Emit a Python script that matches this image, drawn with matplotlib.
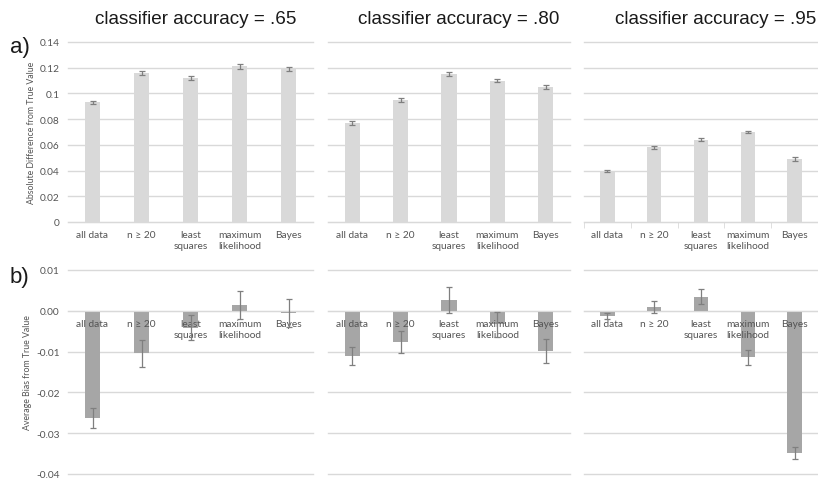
import numpy as np
import matplotlib.pyplot as plt
from matplotlib.ticker import FixedLocator

categories = ["all data", "n \u2265 20", "least\nsquares", "maximum\nlikelihood", "Bayes"]
accuracies = [".65", ".80", ".95"]

# a) absolute difference from true value (one list per classifier accuracy)
absdiff_65 = [0.093, 0.116, 0.112, 0.121, 0.119]
absdiff_80 = [0.077, 0.095, 0.115, 0.110, 0.105]
absdiff_95 = [0.040, 0.058, 0.064, 0.070, 0.049]
absdiff_err_65 = [0.0015, 0.0017, 0.0016, 0.0017, 0.0017]
absdiff_err_80 = [0.0012, 0.0015, 0.0016, 0.0014, 0.0014]
absdiff_err_95 = [0.0008, 0.0009, 0.0010, 0.0009, 0.0012]

# b) average bias from true value
bias_65 = [-0.0263, -0.0104, -0.0041, 0.0014, -0.0006]
bias_80 = [-0.0111, -0.0077, 0.0027, -0.0033, -0.0098]
bias_95 = [-0.0013, 0.0010, 0.0035, -0.0114, -0.0348]
bias_err_65 = [0.0024, 0.0033, 0.0031, 0.0035, 0.0034]
bias_err_80 = [0.0022, 0.0027, 0.0032, 0.0030, 0.0029]
bias_err_95 = [0.0007, 0.0015, 0.0018, 0.0019, 0.0015]

absdiff = [absdiff_65, absdiff_80, absdiff_95]
absdiff_err = [absdiff_err_65, absdiff_err_80, absdiff_err_95]
bias = [bias_65, bias_80, bias_95]
bias_err = [bias_err_65, bias_err_80, bias_err_95]

W, H = 818, 481
fig = plt.figure(figsize=(W / 100, H / 100), dpi=100)

tick_font = "Lato"
grid_col = "#d9d9d9"
text_col = "#545454"
err_col = "#7f7f7f"

# panel extents in pixels (left, right)
panel_x = [(68, 313), (328, 570), (584, 818)]
title_x = [196, 459, 716]

x = np.arange(len(categories))


def style_axes(ax, first, yticks):
    for side in ["top", "right", "left"]:
        ax.spines[side].set_visible(False)
    ax.spines["bottom"].set_color(grid_col)
    # gridlines drawn behind the bars so tick labels can sit on top of bars
    for yv in yticks:
        ax.axhline(yv, color=grid_col, linewidth=1, zorder=0.5, clip_on=False)
    ax.set_axisbelow(False)
    ax.tick_params(axis="x", length=0, labelsize=7.3, colors=text_col, pad=6)
    ax.tick_params(axis="y", length=0, labelsize=7.3, colors=text_col, pad=6)
    for lab in ax.get_xticklabels() + ax.get_yticklabels():
        lab.set_fontfamily(tick_font)
    if not first:
        ax.tick_params(axis="y", labelleft=False)
    ax.set_xlim(-0.5, len(categories) - 0.5)


for i in range(3):
    x0, x1 = panel_x[i]
    left = x0 / W
    width = (x1 - x0) / W

    # top row
    ax = fig.add_axes([left, 1 - 223 / H, width, 180 / H])
    ax.bar(x, absdiff[i], width=0.31, color="#d9d9d9", zorder=1)
    ax.errorbar(x, absdiff[i], yerr=absdiff_err[i], fmt="none", ecolor=err_col,
                elinewidth=0.9, capsize=2.2, capthick=0.9, zorder=3)
    ax.set_ylim(0, 0.14)
    yt = np.arange(0, 0.141, 0.02)
    ax.set_yticks(yt)
    ax.set_yticklabels(["0", "0.02", "0.04", "0.06", "0.08", "0.1", "0.12", "0.14"])
    ax.set_xticks(x)
    ax.set_xticklabels(categories, linespacing=1.3)
    style_axes(ax, i == 0, yt)
    if i == 2:
        ax.xaxis.set_minor_locator(FixedLocator(np.arange(-0.5, len(categories), 1.0)))
        ax.tick_params(axis="x", which="minor", length=4, color=grid_col, direction="out")
    if i == 0:
        ax.set_ylabel("Absolute Difference from True Value", fontsize=6.3,
                      color=text_col, fontfamily=tick_font, labelpad=3)
    fig.text(title_x[i] / W, 1 - 19 / H, "classifier accuracy = " + accuracies[i],
             ha="center", va="center", fontsize=13.6, fontfamily="Liberation Sans",
             color="#1a1a1a")

    # bottom row
    ax = fig.add_axes([left, 1 - 475 / H, width, 204 / H])
    ax.bar(x, bias[i], width=0.31, color="#a6a6a6", zorder=1)
    ax.errorbar(x, bias[i], yerr=bias_err[i], fmt="none", ecolor=err_col,
                elinewidth=0.9, capsize=2.2, capthick=0.9, zorder=3)
    ax.set_ylim(-0.04, 0.01)
    yt = np.arange(-0.04, 0.0101, 0.01)
    ax.set_yticks(yt)
    ax.set_yticklabels(["-0.04", "-0.03", "-0.02", "-0.01", "0.00", "0.01"])
    ax.set_xticks(x)
    ax.set_xticklabels(categories, linespacing=1.3)
    ax.spines["bottom"].set_position(("data", 0))
    style_axes(ax, i == 0, yt)
    if i == 0:
        ax.set_ylabel("Average Bias from True Value", fontsize=6.3,
                      color=text_col, fontfamily=tick_font, labelpad=3)

fig.text(10 / W, 1 - 47 / H, "a)", ha="left", va="center", fontsize=16,
         fontfamily="Liberation Sans", color="#1a1a1a")
fig.text(10 / W, 1 - 278 / H, "b)", ha="left", va="center", fontsize=16,
         fontfamily="Liberation Sans", color="#1a1a1a")

fig.savefig("out.png", dpi=100)
